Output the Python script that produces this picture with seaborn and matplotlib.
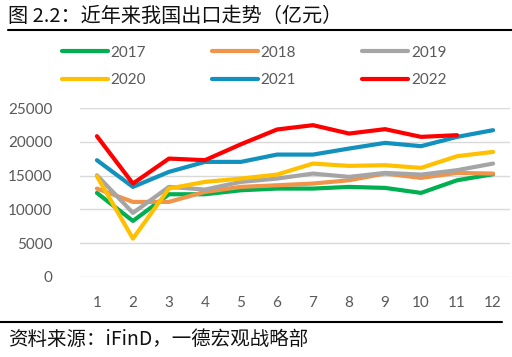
import numpy as np
import pandas as pd
import matplotlib
matplotlib.use('Agg')
import matplotlib.pyplot as plt
import seaborn as sns

sns.set_style('white')
plt.rcParams['font.family'] = ['Lato', 'Noto Sans CJK SC', 'DejaVu Sans']

months = list(range(1, 13))
y2017 = [12440, 8290, 12240, 12240, 12830, 13080, 13080, 13330, 13180, 12440, 14310, 15200]
y2018 = [13080, 11110, 11110, 12590, 13330, 13570, 13820, 14310, 15300, 14660, 15400, 15300]
y2019 = [15050, 9480, 13330, 12930, 14070, 14560, 15300, 14810, 15400, 15150, 15800, 16780]
y2020 = [14900, 5680, 13080, 14070, 14560, 15150, 16780, 16440, 16540, 16140, 17870, 18510]
y2021 = [17280, 13330, 15550, 17030, 17030, 18110, 18110, 19000, 19840, 19350, 20730, 21720]
y2022 = [20830, 13820, 17520, 17280, 19640, 21820, 22460, 21220, 21870, 20730, 20980]

series = {'2017': y2017, '2018': y2018, '2019': y2019,
          '2020': y2020, '2021': y2021, '2022': y2022}
colors = ['#00B050', '#F0944A', '#A5A5A5', '#FFC000', '#1291BE', '#FF0000']

rows = []
for yr, vals in series.items():
    for m, v in zip(months, vals):
        rows.append({'month': m, 'year': yr, 'value': v})
df = pd.DataFrame(rows)

fig = plt.figure(figsize=(5.12, 3.57), dpi=100)
ax = fig.add_axes([80/512, 1-277/357, 430/512, 169/357])

sns.lineplot(data=df, x='month', y='value', hue='year', palette=colors,
             linewidth=3, ax=ax, legend=False)

ax.set_xlim(0.53, 12.47)
ax.set_ylim(0, 25000)
ax.set_xticks(months)
ax.set_yticks(range(0, 25001, 5000))
ax.yaxis.grid(True, color='#D9D9D9', linewidth=1)
ax.set_axisbelow(True)
for s in ax.spines.values():
    s.set_visible(False)
ax.tick_params(axis='both', length=0, labelsize=11, colors='#595959')
ax.tick_params(axis='x', pad=14)
ax.tick_params(axis='y', pad=20)
ax.set_xlabel('')
ax.set_ylabel('')

# legend fills column by column, so reorder to read row by row
labels = list(series.keys())
order = [0, 3, 1, 4, 2, 5]
handles = [plt.Line2D([], [], color=colors[i], linewidth=3) for i in order]
fig.legend(handles, [labels[i] for i in order], ncol=3, loc='upper left',
           bbox_to_anchor=(48/512, 1-32/357), frameon=False,
           fontsize=11, labelcolor='#595959', handlelength=3.0,
           handletextpad=0.2, columnspacing=4.3, labelspacing=0.9)

fig.text(8/512, 1-16/357, '图 2.2：近年来我国出口走势（亿元）', fontsize=14.5,
         family=['Noto Sans CJK SC', 'DejaVu Sans'], va='center', color='#111111')
fig.add_artist(plt.Line2D([8/512, 1], [1-30/357, 1-30/357], color='black', linewidth=1.5))
fig.add_artist(plt.Line2D([0, 502/512], [1-322/357, 1-322/357], color='black', linewidth=1.5))
fig.text(8/512, 1-339/357, '资料来源：iFinD，一德宏观战略部', fontsize=14,
         family=['Noto Sans CJK SC', 'DejaVu Sans'], va='center', color='#111111')

fig.savefig('out.png', dpi=100)
